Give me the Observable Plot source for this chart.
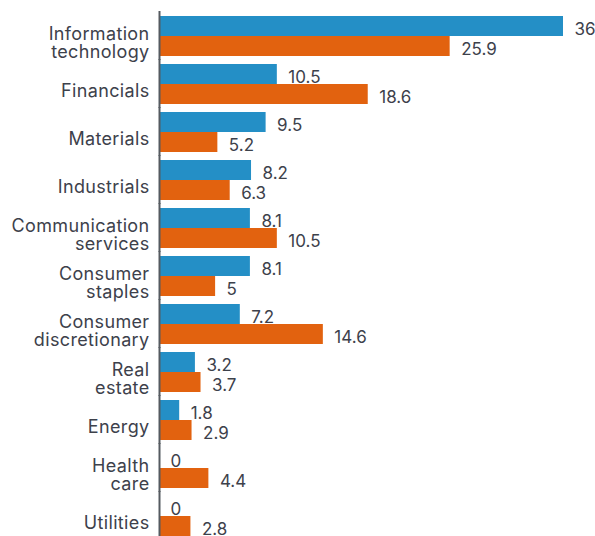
<!DOCTYPE html>
<html>
<head>
<meta charset="utf-8">
<script src="https://cdn.jsdelivr.net/npm/d3@7"></script>
<script src="https://cdn.jsdelivr.net/npm/@observablehq/plot@0.6"></script>
<style>
  html, body { margin: 0; padding: 0; background: #fff; }
  #chart { width: 595px; height: 536px; overflow: hidden; }
  #chart g[aria-label="fy-axis tick label"] { letter-spacing: 0.35px; }
</style>
</head>
<body>
<div id="chart"></div>
<script>
const categories = [
  "Information\ntechnology",
  "Financials",
  "Materials",
  "Industrials",
  "Communication\nservices",
  "Consumer\nstaples",
  "Consumer\ndiscretionary",
  "Real\nestate",
  "Energy",
  "Health\ncare",
  "Utilities"
];
const series = ["Series 1", "Series 2"];
const series1Values = [36, 10.5, 9.5, 8.2, 8.1, 8.1, 7.2, 3.2, 1.8, 0, 0];
const series2Values = [25.9, 18.6, 5.2, 6.3, 10.5, 5, 14.6, 3.7, 2.9, 4.4, 2.8];
const colors = ["#248fc6", "#e2620f"];

const data = [];
categories.forEach((c, i) => {
  data.push({category: c, series: series[0], value: series1Values[i]});
  data.push({category: c, series: series[1], value: series2Values[i]});
});

const textColor = "#3d414b";

const chart = Plot.plot({
  width: 595,
  height: 536,
  marginLeft: 159,
  marginRight: 32,
  marginTop: 14,
  marginBottom: 0,
  style: {fontFamily: "Inter, sans-serif", fontSize: "17px", color: textColor, background: "#fff"},
  x: {domain: [0, 36], axis: null},
  y: {domain: series, axis: null, padding: 0},
  fy: {domain: categories, paddingInner: 0.15, paddingOuter: 0, axis: null, label: null},
  color: {domain: series, range: colors},
  facet: {data, y: "category", label: null},
  marks: [
    Plot.barX(data, {x: "value", y: "series", fill: "series"}),
    Plot.text(data, {x: "value", y: "series", text: d => String(d.value), textAnchor: "start", dx: 11, dy: 3.5, fontSize: 17, fill: textColor}),
    Plot.ruleX([0], {stroke: "#555a60", strokeWidth: 2, insetTop: -4, insetBottom: -4}),
    Plot.axisFy({anchor: "left", tickSize: 0, tickPadding: 10, dy: 7, fontSize: 18, lineHeight: 1.02, fill: textColor, label: null})
  ]
});
document.getElementById("chart").appendChild(chart);
</script>
</body>
</html>
